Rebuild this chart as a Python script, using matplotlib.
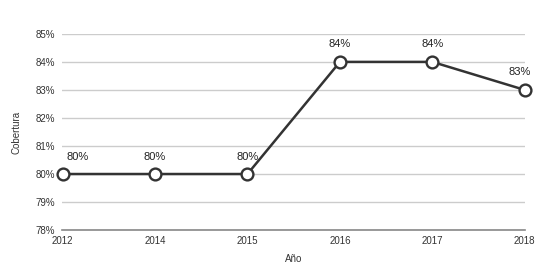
import matplotlib.pyplot as plt

plt.rcParams['font.family'] = ['Liberation Sans', 'DejaVu Sans']

# Cobertura por año
years = ["2012", "2014", "2015", "2016", "2017", "2018"]
coverage = [80, 80, 80, 84, 84, 83]
y_ticks = [78, 79, 80, 81, 82, 83, 84, 85]

fig = plt.figure(figsize=(5.5, 2.71), dpi=100)
ax = fig.add_axes([0.113, 0.151, 0.842, 0.724])

x = range(len(years))
ax.plot(x, coverage, color="#333333", linewidth=1.8, marker="o", markersize=8.5,
        markerfacecolor="white", markeredgecolor="#333333", markeredgewidth=1.7,
        zorder=3, clip_on=False)

for i, v in enumerate(coverage):
    dx = 0
    if i == 0:
        dx = 11
    elif i == len(coverage) - 1:
        dx = -4
    ax.annotate(f"{v}%", (i, v), xytext=(dx, 9), textcoords="offset points",
                ha="center", va="bottom", fontsize=8, color="#222222")

ax.set_ylim(78, 85)
ax.set_xlim(-0.005, len(years) - 1 + 0.005)
ax.set_yticks(y_ticks)
ax.set_yticklabels([f"{t}%" for t in y_ticks])
ax.set_xticks(list(x))
ax.set_xticklabels(years)

ax.grid(axis="y", color="#cccccc", linewidth=1)
ax.set_axisbelow(True)
for s in ["top", "right", "left"]:
    ax.spines[s].set_visible(False)
ax.spines["bottom"].set_color("#888888")
ax.spines["bottom"].set_linewidth(1.2)
ax.tick_params(length=0, labelsize=7, labelcolor="#333333")
ax.tick_params(axis="y", pad=5)
ax.tick_params(axis="x", pad=4)

ax.set_xlabel("Año", fontsize=7, color="#333333", labelpad=6)
ax.set_ylabel("Cobertura", fontsize=7, color="#333333", labelpad=10)

fig.savefig("out.png", dpi=100)
